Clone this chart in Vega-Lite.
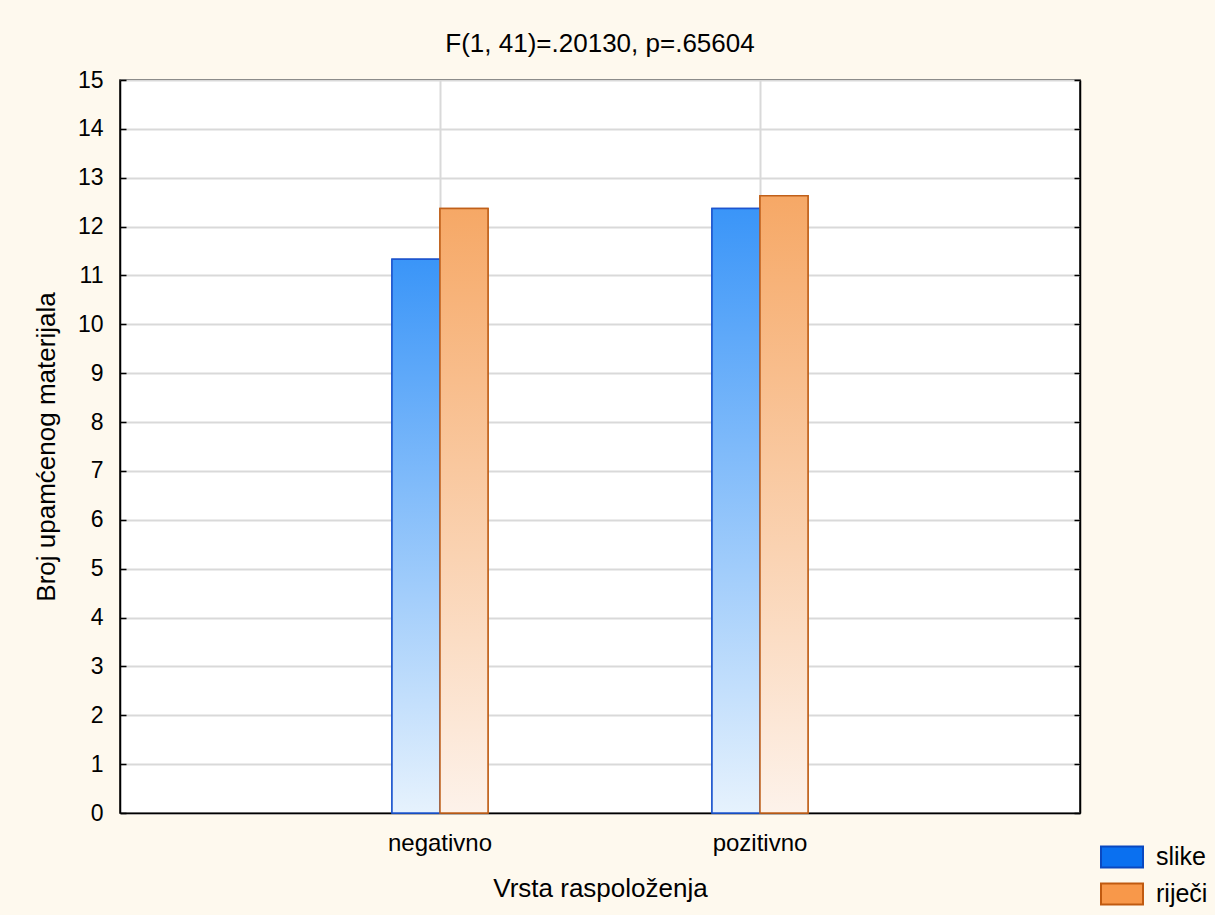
{
  "$schema": "https://vega.github.io/schema/vega-lite/v6.json",
  "autosize": {"type": "none"},
  "width": 960,
  "height": 733,
  "padding": {"left": 120, "top": 80, "right": 135, "bottom": 102},
  "background": "#FEF9EE",
  "title": {"text": "F(1, 41)=.20130, p=.65604", "font": "Liberation Sans", "fontSize": 26, "fontWeight": "normal", "color": "#000000", "offset": 12, "anchor": "middle"},
  "config": {
    "view": {"stroke": "#000000", "strokeWidth": 1.5, "fill": "#FFFFFF"}
  },
  "data": {"values": [
    {"mood": "negativno", "series": "slike", "value": 11.33},
    {"mood": "negativno", "series": "riječi", "value": 12.37},
    {"mood": "pozitivno", "series": "slike", "value": 12.37},
    {"mood": "pozitivno", "series": "riječi", "value": 12.63}
  ]},
  "encoding": {
    "x": {"field": "mood", "type": "nominal", "sort": ["negativno", "pozitivno"],
      "scale": {"paddingInner": 0.7, "paddingOuter": 0.85},
      "axis": {"title": "Vrsta raspoloženja", "labelAngle": 0, "tickSize": -6, "labelPadding": 24, "titlePadding": 20, "grid": true, "bandPosition": 0.5,
        "labelFont": "Liberation Sans", "titleFont": "Liberation Sans", "labelFontSize": 24, "titleFontSize": 26, "titleFontWeight": "normal", "labelColor": "#000000", "titleColor": "#000000", "domainColor": "#000000", "tickColor": "#000000", "gridColor": "#D9D9D9", "gridWidth": 2, "domainWidth": 1.5, "tickWidth": 1.5}},
    "xOffset": {"field": "series", "type": "nominal", "sort": ["slike", "riječi"], "scale": {"paddingInner": 0, "paddingOuter": 0}}
  },
  "resolve": {"axis": {"y": "independent"}},
  "layer": [
    {
      "mark": {"type": "bar", "strokeWidth": 1.5},
      "encoding": {
        "y": {"field": "value", "type": "quantitative",
          "scale": {"domain": [0, 15], "nice": false},
          "axis": {"orient": "left", "title": "Broj upamćenog materijala", "values": [0,1,2,3,4,5,6,7,8,9,10,11,12,13,14,15], "labelOverlap": false, "tickSize": -6, "labelPadding": 23, "titlePadding": 18, "grid": true,
            "labelFont": "Liberation Sans", "titleFont": "Liberation Sans", "labelFontSize": 23, "titleFontSize": 26, "titleFontWeight": "normal", "labelColor": "#000000", "titleColor": "#000000", "domainColor": "#000000", "tickColor": "#000000", "gridColor": "#D9D9D9", "gridWidth": 2, "domainWidth": 1.5, "tickWidth": 1.5}},
        "color": {"field": "series", "type": "nominal", "sort": ["slike", "riječi"],
          "scale": {"domain": ["slike", "riječi"], "range": ["#0A70F0", "#F8984A"]},
          "legend": {"title": null, "orient": "none", "legendX": 980, "legendY": 755, "symbolType": "M-1,-0.5H1V0.5H-1Z", "symbolSize": 1764, "symbolStrokeWidth": 2, "symbolOpacity": 1, "labelFont": "Liberation Sans", "labelFontSize": 25, "labelColor": "#000000", "rowPadding": -8, "labelOffset": 12}},
        "stroke": {"field": "series", "type": "nominal", "sort": ["slike", "riječi"],
          "scale": {"domain": ["slike", "riječi"], "range": ["#0A48C0", "#C05A10"]}}
      }
    },
    {
      "mark": {"type": "tick", "opacity": 0},
      "encoding": {
        "y": {"field": "value", "type": "quantitative",
          "axis": {"orient": "right", "title": null, "labels": false, "values": [0,1,2,3,4,5,6,7,8,9,10,11,12,13,14,15], "tickSize": -6, "grid": false, "domainColor": "#000000", "tickColor": "#000000", "domainWidth": 1.5, "tickWidth": 1.5}}
      }
    },
    {
      "transform": [{"filter": "datum.series === 'slike'"}],
      "mark": {"type": "bar", "strokeWidth": 1.5, "stroke": "#1D55D0",
        "fill": {"gradient": "linear", "x1": 0, "y1": 0, "x2": 0, "y2": 1, "stops": [{"offset": 0, "color": "#3A95F8"}, {"offset": 1, "color": "#E6F2FD"}]}},
      "encoding": {"y": {"field": "value", "type": "quantitative", "axis": null}}
    },
    {
      "transform": [{"filter": "datum.series === 'riječi'"}],
      "mark": {"type": "bar", "strokeWidth": 1.5, "stroke": "#C0601A",
        "fill": {"gradient": "linear", "x1": 0, "y1": 0, "x2": 0, "y2": 1, "stops": [{"offset": 0, "color": "#F6A866"}, {"offset": 1, "color": "#FDF2EA"}]}},
      "encoding": {"y": {"field": "value", "type": "quantitative", "axis": null}}
    }
  ]
}
